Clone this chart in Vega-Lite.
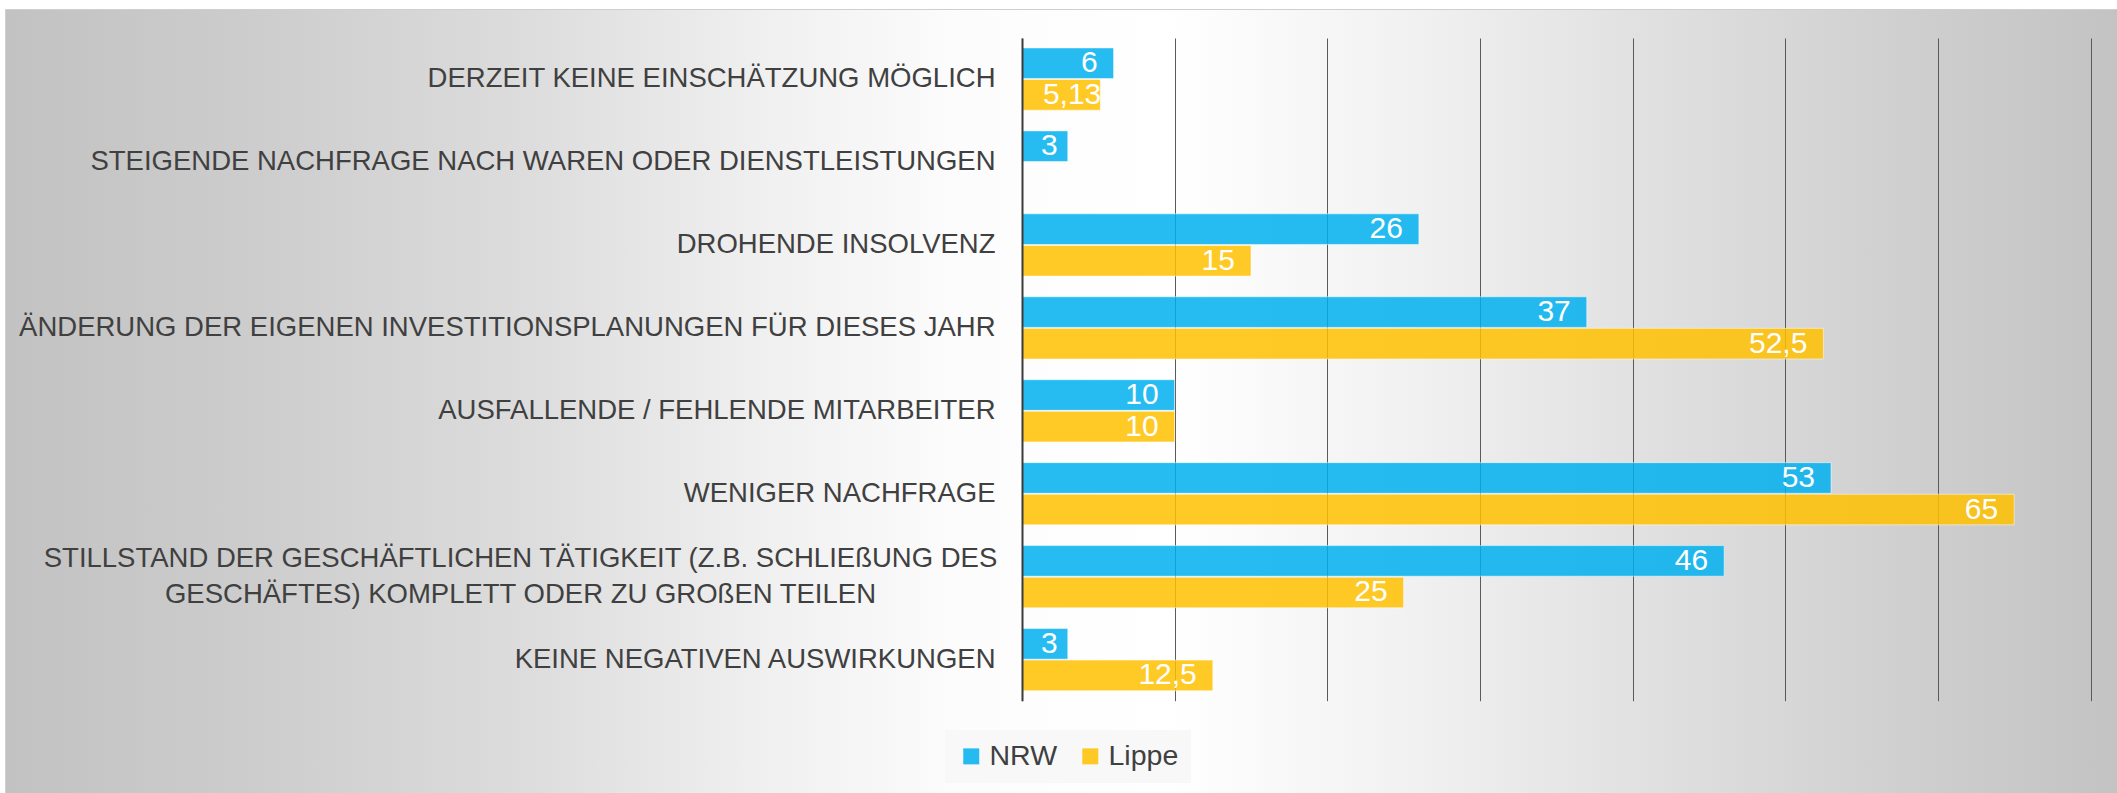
{
  "$schema": "https://vega.github.io/schema/vega-lite/v6.json",
  "width": 2112,
  "height": 784,
  "padding": {"left": 5, "top": 9, "right": 0, "bottom": 0},
  "autosize": {"type": "none"},
  "background": "#ffffff",
  "config": {
    "font": "Liberation Sans",
    "locale": {"number": {"decimal": ",", "thousands": ".", "grouping": [3], "currency": ["", " €"]}},
    "view": {
      "stroke": "#cfcfcf",
      "strokeWidth": 1,
      "fill": {
        "gradient": "linear", "x1": 0, "y1": 0.5, "x2": 1, "y2": 0.5,
        "stops": [
          {"offset": 0, "color": "#c2c2c2"},
          {"offset": 0.12, "color": "#cdcdcd"},
          {"offset": 0.25, "color": "#dddddd"},
          {"offset": 0.36, "color": "#f0f0f0"},
          {"offset": 0.45, "color": "#fcfcfc"},
          {"offset": 0.55, "color": "#ffffff"},
          {"offset": 0.66, "color": "#f2f2f2"},
          {"offset": 0.78, "color": "#e0e0e0"},
          {"offset": 0.9, "color": "#cfcfcf"},
          {"offset": 1, "color": "#c3c3c3"}
        ]
      }
    }
  },
  "data": {
    "values": [
      {"category": "DERZEIT KEINE EINSCHÄTZUNG MÖGLICH", "region": "NRW", "value": 6},
      {"category": "DERZEIT KEINE EINSCHÄTZUNG MÖGLICH", "region": "Lippe", "value": 5.13},
      {"category": "STEIGENDE NACHFRAGE NACH WAREN ODER DIENSTLEISTUNGEN", "region": "NRW", "value": 3},
      {"category": "DROHENDE INSOLVENZ", "region": "NRW", "value": 26},
      {"category": "DROHENDE INSOLVENZ", "region": "Lippe", "value": 15},
      {"category": "ÄNDERUNG DER EIGENEN INVESTITIONSPLANUNGEN FÜR DIESES JAHR", "region": "NRW", "value": 37},
      {"category": "ÄNDERUNG DER EIGENEN INVESTITIONSPLANUNGEN FÜR DIESES JAHR", "region": "Lippe", "value": 52.5},
      {"category": "AUSFALLENDE / FEHLENDE MITARBEITER", "region": "NRW", "value": 10},
      {"category": "AUSFALLENDE / FEHLENDE MITARBEITER", "region": "Lippe", "value": 10},
      {"category": "WENIGER NACHFRAGE", "region": "NRW", "value": 53},
      {"category": "WENIGER NACHFRAGE", "region": "Lippe", "value": 65},
      {"category": "STILLSTAND DER GESCHÄFTLICHEN TÄTIGKEIT (Z.B. SCHLIEßUNG DES GESCHÄFTES) KOMPLETT ODER ZU GROßEN TEILEN", "region": "NRW", "value": 46},
      {"category": "STILLSTAND DER GESCHÄFTLICHEN TÄTIGKEIT (Z.B. SCHLIEßUNG DES GESCHÄFTES) KOMPLETT ODER ZU GROßEN TEILEN", "region": "Lippe", "value": 25},
      {"category": "KEINE NEGATIVEN AUSWIRKUNGEN", "region": "NRW", "value": 3},
      {"category": "KEINE NEGATIVEN AUSWIRKUNGEN", "region": "Lippe", "value": 12.5}
    ]
  },
  "encoding": {
    "y": {
      "field": "category", "type": "nominal", "sort": null,
      "scale": {"range": [29, 691.7], "paddingInner": 0.25, "paddingOuter": 0.12},
      "axis": {
        "orient": "left", "offset": -1017, "title": null, "zindex": 1,
        "domain": true, "domainColor": "#3a3a3a", "domainWidth": 2,
        "ticks": false, "grid": false,
        "labelFontSize": 27.5, "labelColor": "#404040",
        "labelPadding": {"condition": {"test": "indexof(datum.value, 'STILLSTAND') == 0", "value": 502}, "value": 27},
        "labelAlign": {"condition": {"test": "indexof(datum.value, 'STILLSTAND') == 0", "value": "center"}, "value": "right"},
        "labelOffset": {"condition": {"test": "indexof(datum.value, 'STILLSTAND') == 0", "value": -18}, "value": 0},
        "labelLimit": 1500, "labelLineHeight": 36,
        "labelExpr": "indexof(datum.value, 'STILLSTAND') == 0 ? ['STILLSTAND DER GESCHÄFTLICHEN TÄTIGKEIT (Z.B. SCHLIEßUNG DES', 'GESCHÄFTES) KOMPLETT ODER ZU GROßEN TEILEN'] : datum.label"
      }
    },
    "yOffset": {"field": "region", "type": "nominal", "sort": ["NRW", "Lippe"], "scale": {"paddingInner": 0.03, "paddingOuter": 0}},
    "x": {
      "field": "value", "type": "quantitative",
      "scale": {"domain": [0, 70], "range": [1017, 2085.5], "nice": false, "zero": true},
      "axis": {"orient": "top", "grid": true, "values": [0, 10, 20, 30, 40, 50, 60, 70], "labels": false, "ticks": false, "domain": false, "title": null, "gridColor": "#5a5a5a", "gridWidth": 1}
    }
  },
  "layer": [
    {
      "mark": {"type": "bar", "fillOpacity": 0.85, "stroke": "#ffffff", "strokeOpacity": 0.5, "strokeWidth": 1},
      "encoding": {
        "color": {
          "field": "region", "type": "nominal",
          "scale": {"domain": ["NRW", "Lippe"], "range": ["#00B0F0", "#FFC000"]},
          "legend": {
            "orient": "none", "legendX": 940, "legendY": 721, "direction": "horizontal",
            "title": null, "labelFontSize": 28.5, "labelColor": "#404040",
            "symbolType": "square", "symbolSize": 256, "symbolOpacity": 0.85, "symbolStrokeWidth": 0,
            "fillColor": "#f8f8f8", "padding": 12, "columnPadding": 18, "labelOffset": 4
          }
        }
      }
    },
    {
      "mark": {"type": "text", "align": "right", "baseline": "middle", "fontSize": 30, "fill": "#ffffff", "dx": {"expr": "datum.value < 4 ? -10 : datum.value < 6 ? 1 : -16"}},
      "encoding": {
        "text": {"field": "value", "type": "quantitative", "format": "~f"}
      }
    }
  ]
}
